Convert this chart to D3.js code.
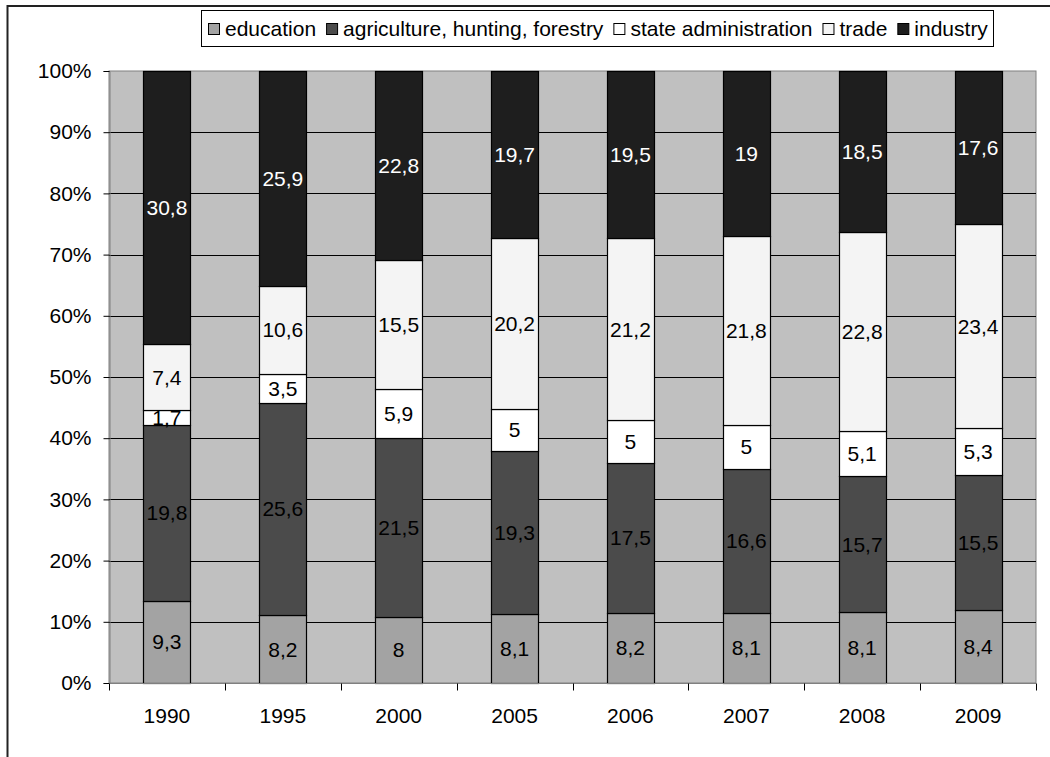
<!DOCTYPE html>
<html>
<head>
<meta charset="utf-8">
<script src="https://cdnjs.cloudflare.com/ajax/libs/d3/7.8.5/d3.min.js"></script>
<style>
  html, body { margin: 0; padding: 0; background: #ffffff; }
  svg { display: block; font-family: "Liberation Sans", Arial, sans-serif; }
</style>
</head>
<body>
<svg id="chart" width="1050" height="757"></svg>
<script>
// Employment structure by sector, 100% stacked columns
const years = ["1990", "1995", "2000", "2005", "2006", "2007", "2008", "2009"];
const sectors = ["education", "agriculture, hunting, forestry", "state administration", "trade", "industry"];

const education      = [9.3, 8.2, 8, 8.1, 8.2, 8.1, 8.1, 8.4];
const agriculture    = [19.8, 25.6, 21.5, 19.3, 17.5, 16.6, 15.7, 15.5];
const stateAdmin     = [1.7, 3.5, 5.9, 5, 5, 5, 5.1, 5.3];
const trade          = [7.4, 10.6, 15.5, 20.2, 21.2, 21.8, 22.8, 23.4];
const industry       = [30.8, 25.9, 22.8, 19.7, 19.5, 19, 18.5, 17.6];

const yTicks = [0, 0.1, 0.2, 0.3, 0.4, 0.5, 0.6, 0.7, 0.8, 0.9, 1];

const seriesValues = [education, agriculture, stateAdmin, trade, industry];
const fills = ["#a3a3a3", "#4b4b4b", "#ffffff", "#f4f4f4", "#1e1e1e"];
const labelColors = ["#000", "#000", "#000", "#000", "#fff"];

const svg = d3.select("#chart");
const FONT = 21;

// outer chart frame
svg.append("rect")
  .attr("x", 7.5).attr("y", 6).attr("width", 1100).attr("height", 800)
  .attr("fill", "none").attr("stroke", "#222").attr("stroke-width", 2);

const plot = { left: 109, right: 1036, top: 71, bottom: 683 };

const x = d3.scaleBand()
  .domain(years)
  .range([plot.left, plot.right])
  .paddingInner(0.595)
  .paddingOuter(0.2975);

const y = d3.scaleLinear().domain([0, 1]).range([plot.bottom, plot.top]);

// table of rows for stacking, normalised to shares
const rows = years.map((yr, i) => {
  const row = { year: yr };
  sectors.forEach((s, k) => { row[s] = seriesValues[k][i]; });
  return row;
});
const stacked = d3.stack().keys(sectors).offset(d3.stackOffsetExpand)(rows);

// plot background
svg.append("rect")
  .attr("x", plot.left).attr("y", plot.top)
  .attr("width", plot.right - plot.left).attr("height", plot.bottom - plot.top)
  .attr("fill", "#c0c0c0").attr("stroke", "#808080").attr("stroke-width", 1);

// horizontal gridlines
svg.append("g").selectAll("line")
  .data(yTicks.filter(t => t > 0 && t < 1))
  .join("line")
  .attr("x1", plot.left).attr("x2", plot.right)
  .attr("y1", d => Math.round(y(d)) + 0.5).attr("y2", d => Math.round(y(d)) + 0.5)
  .attr("stroke", "#000").attr("stroke-width", 1);

// stacked segments
const layers = svg.append("g").selectAll("g")
  .data(stacked)
  .join("g")
  .attr("fill", (d, i) => fills[i]);

layers.selectAll("rect")
  .data(d => d)
  .join("rect")
  .attr("x", d => Math.round(x(d.data.year)) + 0.5)
  .attr("width", Math.round(x.bandwidth()))
  .attr("y", d => Math.round(y(d[1])) + 0.5)
  .attr("height", d => Math.round(y(d[0])) - Math.round(y(d[1])))
  .attr("stroke", "#000").attr("stroke-width", 1.2);

// value labels
stacked.forEach((layer, k) => {
  svg.append("g").selectAll("text")
    .data(layer)
    .join("text")
    .attr("x", d => x(d.data.year) + x.bandwidth() / 2)
    .attr("y", d => (y(d[0]) + y(d[1])) / 2)
    .attr("dy", "0.36em")
    .attr("text-anchor", "middle")
    .attr("font-size", FONT)
    .attr("fill", labelColors[k])
    .text((d, i) => String(seriesValues[k][i]).replace(".", ","));
});

// y axis
const yAxis = d3.axisLeft(y)
  .tickValues(yTicks)
  .tickFormat(d3.format(".0%"))
  .tickSize(6)
  .tickPadding(12);
const yg = svg.append("g").attr("transform", `translate(${plot.left + 0.5},0)`).call(yAxis);
yg.select(".domain").attr("stroke", "#808080");
yg.selectAll(".tick line").attr("stroke", "#000");
yg.selectAll("text").attr("font-size", FONT).attr("fill", "#000")
  .attr("font-family", "Liberation Sans, Arial, sans-serif");

// x axis with ticks at category boundaries
const xg = svg.append("g").attr("transform", `translate(0,${plot.bottom + 0.5})`);
xg.append("line")
  .attr("x1", plot.left).attr("x2", plot.right)
  .attr("stroke", "#808080");
const step = x.step();
xg.selectAll("line.bound")
  .data(d3.range(years.length + 1))
  .join("line")
  .attr("class", "bound")
  .attr("x1", i => Math.round(plot.left + i * step) + 0.5)
  .attr("x2", i => Math.round(plot.left + i * step) + 0.5)
  .attr("y1", 0).attr("y2", 7)
  .attr("stroke", "#000");
xg.selectAll("text")
  .data(years)
  .join("text")
  .attr("x", d => x(d) + x.bandwidth() / 2)
  .attr("y", 39)
  .attr("text-anchor", "middle")
  .attr("font-size", FONT)
  .attr("fill", "#000")
  .text(d => d);

// legend
const legend = svg.append("g");
const legBox = legend.append("rect")
  .attr("y", 10.5).attr("height", 36)
  .attr("fill", "#fff").attr("stroke", "#000").attr("stroke-width", 1);
let cx = 0;
const items = legend.append("g");
sectors.forEach((s, k) => {
  const g = items.append("g").attr("transform", `translate(${cx},0)`);
  g.append("rect")
    .attr("x", 0.5).attr("y", 23.5).attr("width", 11).attr("height", 11)
    .attr("fill", fills[k]).attr("stroke", "#000").attr("stroke-width", 1);
  const t = g.append("text")
    .attr("x", 17).attr("y", 36)
    .attr("font-size", FONT).attr("fill", "#000")
    .text(s);
  cx += 17 + t.node().getComputedTextLength() + 10;
});
const itemsWidth = cx - 10;
const boxRight = 993;
const padL = 7, padR = 5;
const boxLeft = boxRight - itemsWidth - padL - padR;
legBox.attr("x", Math.round(boxLeft) + 0.5).attr("width", Math.round(boxRight - boxLeft));
items.attr("transform", `translate(${Math.round(boxLeft + padL)},0)`);
</script>
</body>
</html>
